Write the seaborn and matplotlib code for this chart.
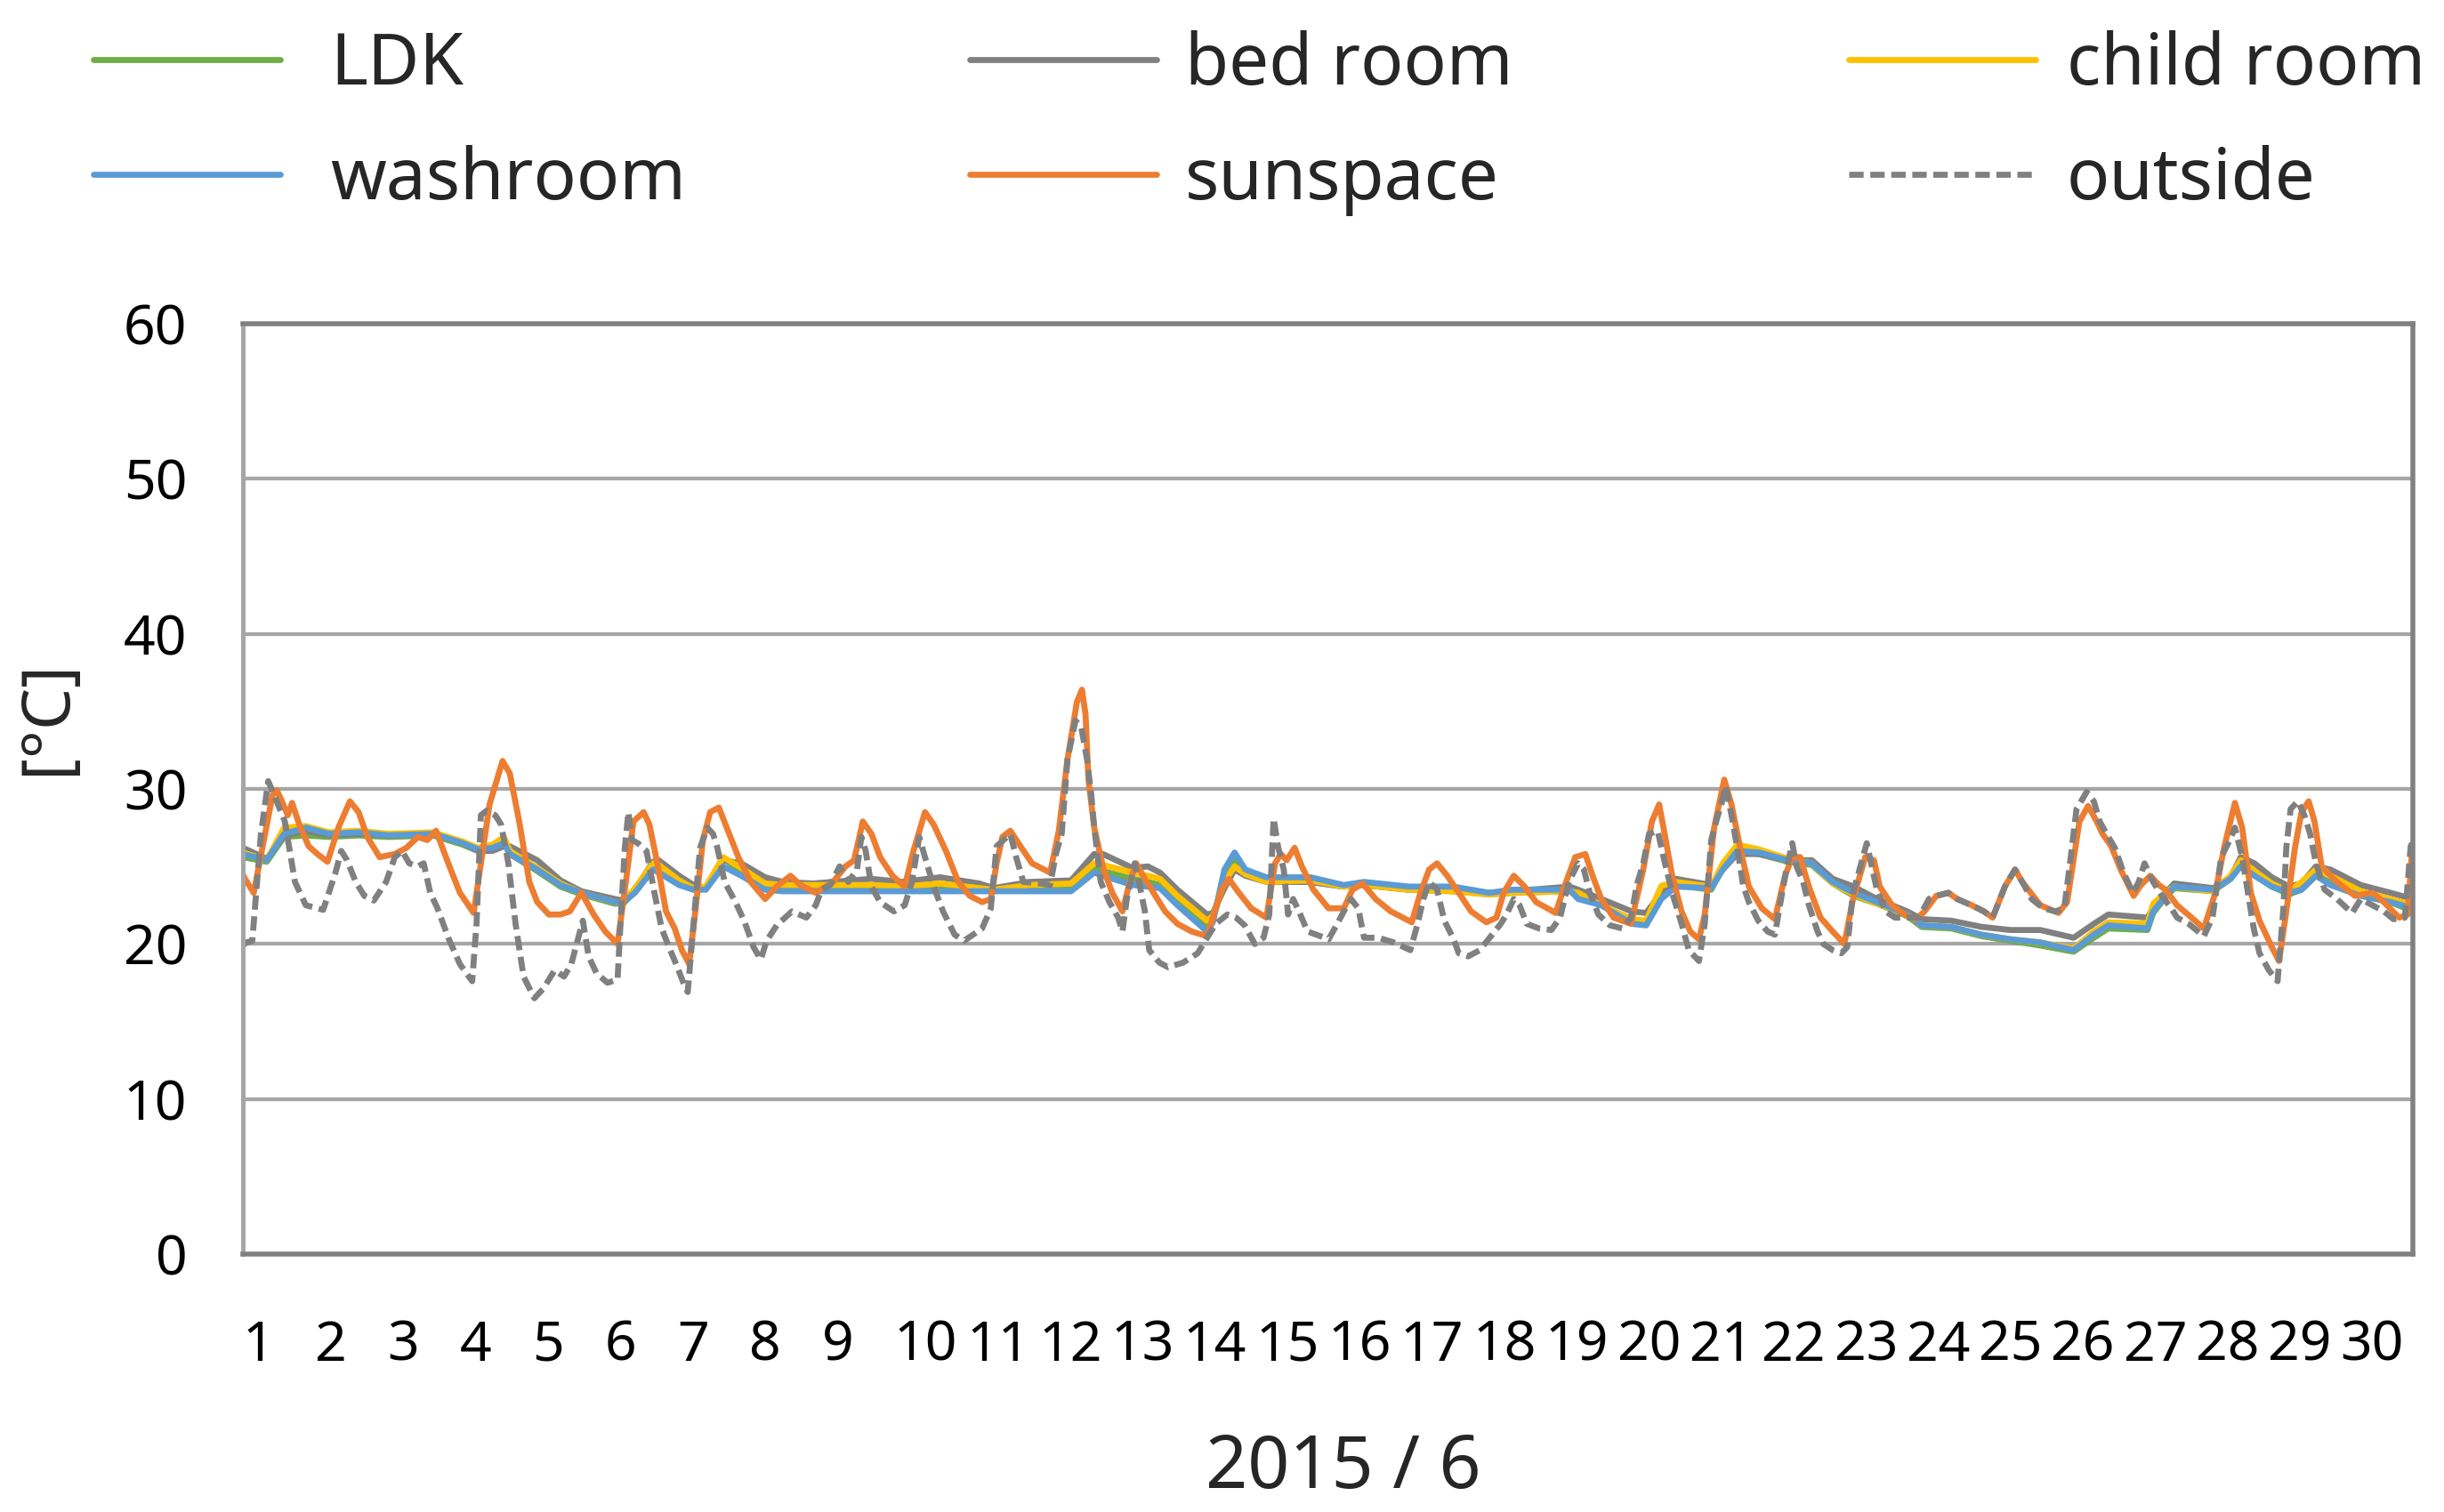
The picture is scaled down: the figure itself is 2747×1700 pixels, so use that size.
import matplotlib
matplotlib.use("Agg")
import matplotlib.pyplot as plt
import seaborn as sns
import pandas as pd

# time axis: days since 2015-06-01 00:00
day_labels = [str(d) for d in range(1, 31)]

# indoor rooms share the same time knots
indoor_t = [0.00, 0.33, 0.57, 0.87, 1.19, 1.60, 2.02, 2.63, 3.04, 3.25, 3.45, 3.61, 3.69, 4.07, 4.39, 4.68,
            5.14, 5.26, 5.42, 5.67, 5.75, 6.03, 6.23, 6.40, 6.64, 6.89, 7.22, 7.46, 7.88, 8.69, 9.11, 9.64,
            10.18, 10.38, 10.88, 11.45, 11.77, 11.89, 12.30, 12.51, 12.68, 12.92, 13.33, 13.41, 13.57, 13.71,
            13.86, 14.15, 14.76, 15.22, 15.50, 16.12, 16.73, 17.23, 17.55, 18.34, 18.46, 18.78, 19.20, 19.40,
            19.61, 19.81, 20.30, 20.46, 20.66, 20.96, 21.36, 21.69, 21.98, 22.27, 22.59, 23.01, 23.21, 23.62,
            24.04, 24.44, 24.85, 25.31, 25.59, 25.79, 26.33, 26.41, 26.58, 26.70, 27.24, 27.48, 27.62, 27.81,
            28.05, 28.29, 28.46, 28.66, 28.86, 29.28, 29.69, 30.00]
ldk = [25.6, 25.3, 26.9, 27.0, 26.9, 27.0, 26.9, 27.0, 26.4, 26.0, 26.1, 26.5, 25.8, 24.7, 23.7, 23.2,
       22.6, 22.6, 23.4, 25.0, 24.9, 23.9, 23.5, 23.6, 25.5, 24.7, 23.7, 23.6, 23.6, 23.6, 23.5, 23.6,
       23.5, 23.4, 23.6, 23.7, 24.9, 24.7, 24.2, 24.0, 23.8, 22.8, 21.2, 21.6, 24.2, 25.4,
       24.6, 24.1, 24.0, 23.7, 23.8, 23.5, 23.4, 23.2, 23.3, 23.4, 23.1, 22.5, 21.4, 21.3,
       23.3, 23.8, 23.5, 24.9, 26.0, 25.8, 25.3, 25.1, 23.9, 23.1, 22.6, 21.8, 21.1, 21.0,
       20.5, 20.2, 19.9, 19.5, 20.4, 21.0, 20.9, 22.0, 23.0, 23.6, 23.4, 24.2, 25.2, 24.5,
       23.7, 23.2, 23.5, 24.4, 24.0, 23.2, 22.7, 22.1]
bed_room = [26.2, 25.5, 27.0, 27.3, 27.0, 27.1, 27.0, 27.1, 26.5, 26.0, 26.0, 26.3, 26.3, 25.4, 24.1, 23.4,
            22.9, 22.8, 23.5, 25.3, 25.4, 24.4, 23.8, 23.6, 25.4, 25.2, 24.3, 24.0, 23.9, 24.2, 24.0, 24.3,
            23.9, 23.6, 24.0, 24.1, 25.8, 25.8, 24.9, 25.0, 24.6, 23.5, 21.9, 22.0, 23.6, 24.8,
            24.4, 24.0, 24.0, 23.7, 23.8, 23.5, 23.5, 23.3, 23.4, 23.7, 23.5, 22.9, 22.1, 22.0,
            23.3, 24.2, 23.8, 24.8, 25.8, 25.8, 25.4, 25.4, 24.2, 23.7, 22.9, 22.1, 21.6, 21.5,
            21.1, 20.9, 20.9, 20.4, 21.3, 21.9, 21.7, 22.3, 23.3, 23.9, 23.6, 24.3, 25.6, 25.2,
            24.3, 23.7, 23.9, 25.0, 24.8, 23.8, 23.3, 22.9]
child_room = [25.9, 25.4, 27.5, 27.6, 27.2, 27.3, 27.1, 27.2, 26.6, 26.2, 26.4, 26.9, 26.0, 24.9, 23.9, 23.3,
              22.7, 22.7, 23.6, 25.2, 25.1, 24.1, 23.6, 23.7, 25.6, 24.9, 23.9, 23.8, 23.8, 23.8, 23.7, 23.9,
              23.6, 23.5, 23.8, 23.9, 25.2, 25.1, 24.6, 24.4, 24.2, 23.1, 21.5, 21.8, 24.0, 25.0,
              24.5, 24.0, 24.1, 23.7, 23.8, 23.5, 23.4, 23.2, 23.3, 23.4, 23.3, 22.5, 21.6, 21.5,
              23.75, 24.0, 23.7, 25.2, 26.4, 26.1, 25.5, 25.2, 23.9, 23.2, 22.6, 21.9, 21.2, 21.1,
              20.6, 20.3, 20.1, 19.7, 20.8, 21.4, 21.3, 22.6, 23.3, 23.7, 23.4, 24.4, 25.4, 24.7,
              23.9, 23.4, 24.0, 24.8, 24.4, 23.4, 22.9, 22.5]
washroom = [25.8, 25.4, 27.1, 27.5, 27.1, 27.2, 27.0, 27.1, 26.5, 26.1, 26.2, 26.5, 25.8, 24.8, 23.8, 23.3,
            22.7, 22.7, 23.3, 24.8, 24.6, 23.8, 23.5, 23.5, 25.0, 24.4, 23.5, 23.4, 23.4, 23.4, 23.4, 23.4,
            23.4, 23.4, 23.4, 23.4, 24.6, 24.4, 23.8, 23.7, 23.6, 22.5, 20.8, 21.4, 24.8, 25.9,
            24.8, 24.3, 24.3, 23.8, 24.0, 23.7, 23.7, 23.3, 23.5, 23.5, 22.9, 22.5, 21.3, 21.2,
            22.9, 23.7, 23.6, 24.8, 26.0, 25.9, 25.4, 25.2, 24.0, 23.3, 22.7, 21.9, 21.2, 21.1,
            20.6, 20.3, 20.1, 19.6, 20.6, 21.2, 21.0, 22.1, 23.1, 23.7, 23.5, 24.2, 25.0, 24.4,
            23.7, 23.3, 23.5, 24.4, 23.8, 23.1, 22.7, 22.3]

sunspace_t = [0.00, 0.03, 0.15, 0.29, 0.41, 0.47, 0.54, 0.62, 0.68, 0.78, 0.91, 1.03, 1.17, 1.32, 1.48, 1.60,
              1.72, 1.89, 2.10, 2.26, 2.42, 2.55, 2.67, 2.84, 3.00, 3.19, 3.29, 3.41, 3.59, 3.69, 3.82, 3.96,
              4.07, 4.23, 4.39, 4.52, 4.68, 4.85, 5.01, 5.18, 5.30, 5.40, 5.54, 5.62, 5.73, 5.85, 5.97, 6.07,
              6.17, 6.26, 6.36, 6.46, 6.58, 6.69, 6.85, 7.02, 7.22, 7.38, 7.57, 7.71, 7.92, 8.16, 8.33, 8.45,
              8.57, 8.69, 8.81, 8.98, 9.15, 9.27, 9.43, 9.55, 9.72, 9.89, 10.05, 10.22, 10.34, 10.42, 10.50,
              10.61, 10.75, 10.91, 11.16, 11.28, 11.40, 11.53, 11.60, 11.65, 11.69, 11.77, 11.90, 12.02,
              12.16, 12.26, 12.35, 12.47, 12.59, 12.75, 12.92, 13.12, 13.33, 13.41, 13.53, 13.63, 13.77,
              13.94, 14.15, 14.27, 14.35, 14.43, 14.54, 14.64, 14.80, 15.01, 15.22, 15.34, 15.48, 15.66,
              15.87, 16.16, 16.28, 16.40, 16.51, 16.65, 16.81, 16.98, 17.19, 17.33, 17.43, 17.57, 17.72,
              17.88, 18.15, 18.27, 18.42, 18.56, 18.66, 18.78, 18.95, 19.19, 19.36, 19.48, 19.58, 19.64,
              19.76, 19.89, 20.01, 20.13, 20.21, 20.34, 20.48, 20.58, 20.70, 20.82, 21.00, 21.18, 21.32,
              21.42, 21.53, 21.65, 21.81, 21.98, 22.14, 22.26, 22.43, 22.55, 22.63, 22.80, 23.00, 23.13,
              23.25, 23.41, 23.58, 23.70, 23.90, 24.07, 24.19, 24.36, 24.50, 24.60, 24.85, 25.10, 25.22,
              25.39, 25.51, 25.63, 25.71, 25.83, 25.96, 26.14, 26.24, 26.37, 26.49, 26.58, 26.74, 26.94,
              27.11, 27.27, 27.39, 27.54, 27.64, 27.76, 27.88, 28.05, 28.15, 28.25, 28.37, 28.46, 28.56,
              28.64, 28.74, 28.95, 29.20, 29.44, 29.60, 29.81, 29.93, 29.99]
sunspace = [24.5, 24.2, 23.3, 26.7, 29.6, 29.9, 29.2, 28.3, 29.1, 27.7, 26.3, 25.8, 25.3, 27.5, 29.2, 28.5,
            26.9, 25.6, 25.8, 26.2, 26.9, 26.7, 27.3, 25.2, 23.3, 22.0, 25.2, 29.0, 31.8, 31.0, 27.9, 24.0,
            22.7, 21.9, 21.9, 22.1, 23.3, 21.9, 20.8, 20.0, 24.2, 27.9, 28.5, 27.7, 25.2, 22.1, 21.0, 19.6,
            18.7, 22.3, 26.7, 28.5, 28.8, 27.5, 25.6, 24.0, 22.9, 23.7, 24.4, 23.8, 23.3, 24.0, 25.0, 25.4,
            27.9, 27.1, 25.6, 24.4, 23.7, 26.0, 28.5, 27.7, 26.0, 24.0, 23.1, 22.7, 22.9, 25.2, 26.9,
            27.3, 26.3, 25.2, 24.6, 27.3, 31.9, 35.6, 36.4, 34.8, 30.6, 27.5, 24.8, 23.3,
            22.1, 24.0, 25.2, 24.2, 23.3, 22.1, 21.3, 20.8, 20.5, 21.7, 23.5, 24.2, 23.3,
            22.3, 21.7, 25.2, 25.8, 25.4, 26.2, 25.0, 23.5, 22.3, 22.3, 23.5, 23.9, 22.9,
            22.1, 21.4, 23.3, 24.8, 25.2, 24.4, 23.3, 22.1, 21.4, 21.7, 23.3, 24.4, 23.7,
            22.7, 22.0, 23.7, 25.6, 25.8, 24.4, 22.9, 21.7, 21.3, 24.8, 27.9, 29.0, 27.5,
            24.4, 22.1, 20.8, 20.3, 21.9, 27.5, 30.6, 29.0, 26.2, 23.7, 22.3, 21.6, 24.4,
            25.6, 25.6, 23.7, 21.7, 20.8, 20.0, 22.9, 25.6, 25.4, 23.7, 22.5, 21.8, 21.6,
            22.1, 23.1, 23.3, 22.9, 22.5, 22.1, 21.7, 23.7, 24.8, 24.0, 22.5, 22.0, 22.7,
            27.9, 28.9, 27.9, 27.1, 26.3, 24.8, 23.1, 23.8, 24.4, 23.8, 23.5, 22.5, 21.7,
            21.0, 23.3, 26.2, 29.1, 27.5, 23.3, 21.5, 19.8, 18.9, 22.1, 26.2, 28.5, 29.2,
            27.9, 25.0, 24.0, 23.1, 23.3, 22.7, 21.7, 21.9, 26.2]

outside_t = [0.00, 0.05, 0.13, 0.25, 0.35, 0.45, 0.58, 0.72, 0.87, 1.11, 1.28, 1.36, 1.44, 1.56, 1.68, 1.81,
             1.98, 2.10, 2.20, 2.30, 2.42, 2.50, 2.59, 2.69, 2.84, 3.00, 3.17, 3.23, 3.29, 3.37, 3.49, 3.57,
             3.67, 3.77, 3.88, 4.03, 4.15, 4.31, 4.44, 4.54, 4.70, 4.78, 4.89, 5.04, 5.18, 5.22, 5.28, 5.33,
             5.38, 5.46, 5.58, 5.69, 5.79, 5.89, 5.99, 6.09, 6.15, 6.23, 6.32, 6.42, 6.50, 6.56, 6.66, 6.81,
             6.93, 7.06, 7.16, 7.24, 7.38, 7.59, 7.79, 7.92, 8.00, 8.12, 8.25, 8.37, 8.49, 8.55, 8.61, 8.69,
             8.81, 9.00, 9.15, 9.25, 9.35, 9.43, 9.55, 9.68, 9.84, 9.97, 10.22, 10.34, 10.42, 10.61, 10.69,
             10.79, 11.04, 11.16, 11.24, 11.32, 11.40, 11.51, 11.59, 11.67, 11.73, 11.77, 11.86, 11.98,
             12.10, 12.16, 12.22, 12.33, 12.41, 12.47, 12.53, 12.67, 12.79, 13.00, 13.20, 13.33, 13.45,
             13.61, 13.73, 13.85, 13.99, 14.11, 14.19, 14.25, 14.31, 14.39, 14.45, 14.52, 14.60, 14.72,
             14.84, 15.01, 15.13, 15.22, 15.32, 15.42, 15.50, 15.70, 15.91, 16.14, 16.24, 16.32, 16.40,
             16.51, 16.61, 16.73, 16.81, 16.94, 17.10, 17.27, 17.39, 17.47, 17.57, 17.65, 17.75, 17.92,
             18.09, 18.21, 18.33, 18.46, 18.54, 18.62, 18.74, 18.90, 19.07, 19.19, 19.27, 19.36, 19.44,
             19.56, 19.64, 19.76, 19.89, 19.99, 20.13, 20.21, 20.30, 20.38, 20.44, 20.50, 20.58, 20.66,
             20.74, 20.82, 20.95, 21.08, 21.18, 21.28, 21.34, 21.42, 21.48, 21.57, 21.65, 21.77, 21.85,
             21.98, 22.10, 22.18, 22.26, 22.35, 22.45, 22.53, 22.59, 22.71, 22.84, 23.17, 23.31, 23.41,
             23.58, 23.70, 23.90, 24.07, 24.19, 24.36, 24.50, 24.60, 24.73, 24.89, 25.06, 25.18, 25.26,
             25.35, 25.49, 25.59, 25.67, 25.79, 25.88, 26.00, 26.13, 26.21, 26.29, 26.41, 26.53, 26.66,
             26.74, 26.90, 27.11, 27.23, 27.35, 27.47, 27.54, 27.64, 27.72, 27.80, 27.88, 28.01, 28.13,
             28.21, 28.25, 28.31, 28.41, 28.50, 28.58, 28.66, 28.78, 28.95, 29.16, 29.28, 29.44, 29.60,
             29.73, 29.89, 29.97, 29.99]
outside = [19.9, 20.1, 20.2, 27.1, 30.5, 29.4, 27.9, 24.0, 22.5, 22.2, 24.6, 26.0, 25.4, 24.0, 23.1, 22.8,
           24.0, 25.6, 26.0, 25.2, 25.0, 25.2, 23.3, 22.3, 20.4, 18.7, 17.6, 21.3, 28.3, 28.6, 28.3, 27.7,
           25.2, 21.3, 17.9, 16.5, 17.1, 18.3, 17.9, 18.7, 21.5, 19.2, 18.1, 17.5, 17.7, 21.3, 26.2, 28.5,
           26.7, 26.5, 26.0, 23.3, 21.0, 19.8, 18.7, 17.5, 16.9, 21.3, 26.2, 27.5, 27.1, 26.2, 24.0, 22.7,
           21.5, 19.8, 19.0, 20.2, 21.2, 22.1, 21.7, 22.5, 23.5, 23.8, 25.0, 24.0, 24.8, 26.9, 26.0, 23.7,
           22.7, 22.1, 22.5, 24.0, 26.9, 25.6, 23.7, 22.1, 20.6, 20.2, 21.0, 22.3, 26.3, 27.1, 25.6,
           24.0, 23.9, 23.8, 25.8, 27.1, 31.9, 34.4, 34.0, 31.9, 29.6, 27.5, 24.0, 22.7,
           21.7, 20.8, 22.9, 25.2, 23.5, 22.1, 19.6, 18.8, 18.5, 18.8, 19.4, 20.4, 21.3,
           21.9, 21.7, 21.2, 20.0, 20.4, 21.9, 28.1, 26.3, 24.8, 21.9, 22.9, 22.1, 20.8,
           20.6, 20.3, 21.3, 22.1, 22.9, 22.3, 20.4, 20.4, 20.1, 19.6, 21.3, 22.9, 24.0,
           23.5, 21.5, 20.4, 19.4, 19.2, 19.6, 20.6, 21.3, 21.9, 22.9, 22.5, 21.3, 21.0,
           20.9, 21.7, 24.0, 25.2, 24.8, 23.3, 21.9, 21.2, 21.0, 21.7, 23.8, 25.2, 27.1,
           27.3, 25.6, 23.3, 21.3, 19.6, 18.9, 21.3, 26.7, 28.1, 29.0, 30.2, 28.3, 26.2,
           23.8, 22.7, 21.5, 20.8, 20.6, 23.3, 24.8, 26.5, 25.0, 24.0, 22.5, 20.8, 20.0,
           19.6, 19.4, 19.8, 23.3, 24.8, 26.5, 24.8, 23.5, 22.1, 21.7, 21.7, 22.9, 23.1,
           23.3, 22.9, 22.5, 22.1, 21.7, 23.7, 24.8, 24.0, 22.9, 22.3, 22.1, 22.3, 25.2,
           28.7, 29.8, 29.2, 27.9, 26.9, 26.2, 24.6, 23.3, 24.0, 25.2, 24.0, 23.1, 22.3,
           21.7, 21.3, 20.5, 21.7, 25.6, 26.7, 27.5, 25.6, 23.3, 21.0, 19.4, 18.3, 17.6,
           22.3, 26.2, 28.7, 29.2, 28.3, 27.1, 25.2, 23.5, 22.9, 22.0, 22.9, 22.5, 22.1,
           21.6, 21.7, 26.3, 26.5]

series = [
    ("LDK", indoor_t, ldk, "#70AD47", "-"),
    ("bed room", indoor_t, bed_room, "#808080", "-"),
    ("child room", indoor_t, child_room, "#FFC000", "-"),
    ("washroom", indoor_t, washroom, "#5B9BD5", "-"),
    ("sunspace", sunspace_t, sunspace, "#ED7D31", "-"),
    ("outside", outside_t, outside, "#808080", (0, (2.4, 1.1))),
]

sns.set_theme(style="white")
plt.rcParams['font.family'] = ['Noto Sans', 'DejaVu Sans']

fig, ax = plt.subplots(figsize=(2747 / 180, 1700 / 180), dpi=180)
fig.subplots_adjust(left=273 / 2747, right=2712 / 2747, top=1 - 364 / 1700, bottom=1 - 1410 / 1700)

handles = {}
for name, t, vals, color, ls in series:
    df = pd.DataFrame({"day": t, "temp": vals})
    sns.lineplot(data=df, x="day", y="temp", ax=ax, color=color, linewidth=2.7,
                 linestyle=ls, estimator=None, sort=False, legend=False)
    handles[name] = ax.lines[-1]

ax.set_xlim(0, 30)
ax.set_ylim(0, 60)
ax.set_yticks(range(0, 61, 10))
ax.set_xticks(range(30))
ax.set_xticklabels(day_labels)
for lab in ax.get_xticklabels():
    lab.set_ha("left")
ax.tick_params(axis="both", length=0, labelsize=25, colors="black")
ax.tick_params(axis="y", pad=25)
ax.tick_params(axis="x", pad=29)

ax.grid(axis="y", color="#A6A6A6", linewidth=1.7)
ax.grid(axis="x", visible=False)
ax.set_axisbelow(True)
for side in ["top", "right", "bottom"]:
    ax.spines[side].set_color("#808080")
    ax.spines[side].set_linewidth(2.2)
ax.spines["left"].set_color("#A6A6A6")
ax.spines["left"].set_linewidth(2.0)

ax.set_xlabel("2015 / 6", fontsize=33)
ax.xaxis.label.set_va("center")
ax.xaxis.set_label_coords(0.507, -0.231)
ax.set_ylabel("[°C]", fontsize=30)
ax.yaxis.set_label_coords(-0.090, 0.577)
ax.yaxis.label.set_va("center")

# legend laid out as three columns of two rows
columns = [("LDK", "washroom", 105, 0.7), ("bed room", "sunspace", 1090, 0.39),
           ("child room", "outside", 2078, 0.43)]
for top_name, bottom_name, xpx, textpad in columns:
    fig.legend([handles[top_name], handles[bottom_name]], [top_name, bottom_name],
               loc="upper left", bbox_to_anchor=(xpx / 2747, 0.98), frameon=False,
               fontsize=32, handlelength=2.63, handletextpad=textpad, labelspacing=0.61,
               borderpad=0, borderaxespad=0)

fig.savefig("out.png", dpi=180)
